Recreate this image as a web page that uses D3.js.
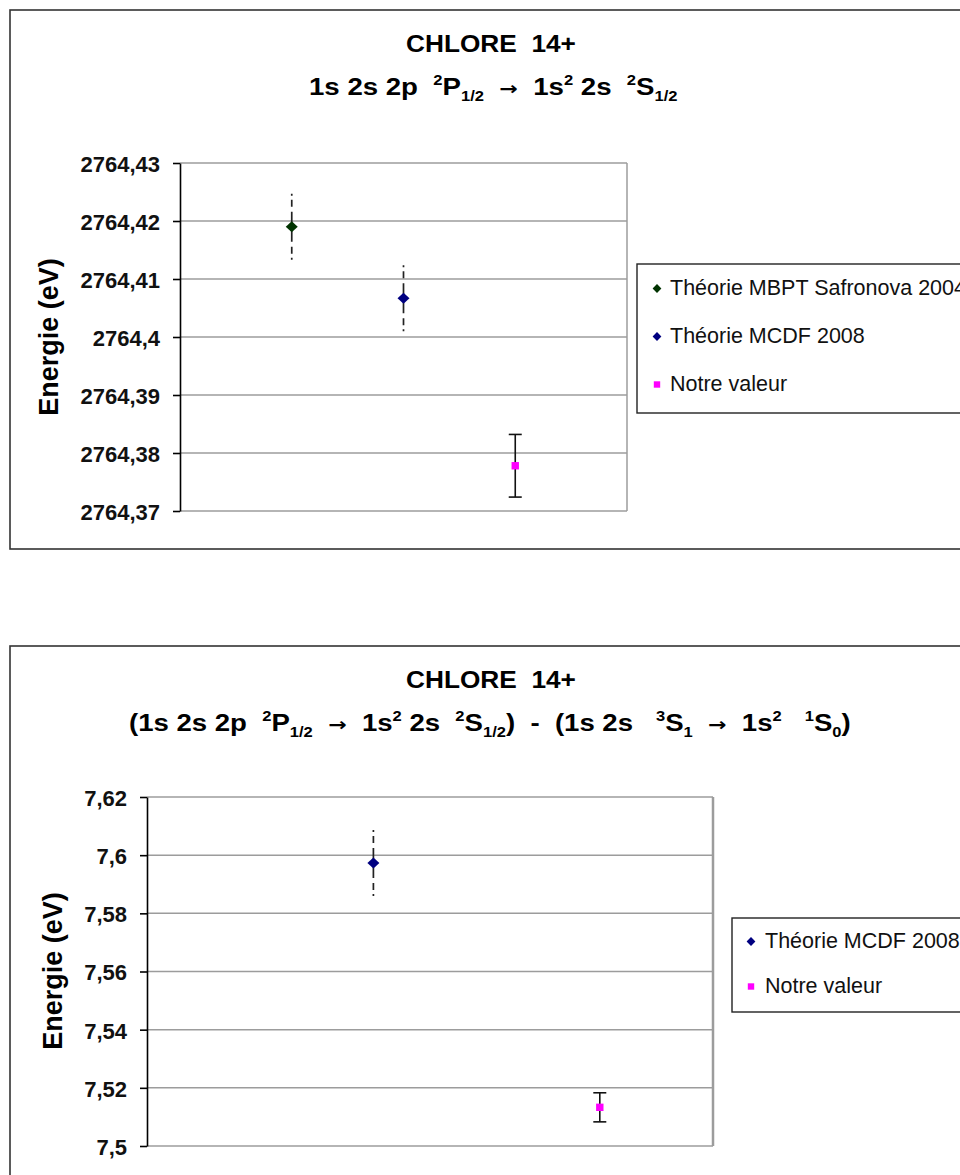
<!DOCTYPE html>
<html><head><meta charset="utf-8">
<script src="https://cdn.jsdelivr.net/npm/d3@7"></script>
<style>
body{margin:0;background:#fff}
svg{display:block}
text{font-family:"Liberation Sans",Arial,sans-serif;white-space:pre}
</style>
</head><body>
<svg id="c" width="960" height="1175"></svg>
<script>
// ---------- DATA ----------
const titleMain = "CHLORE  14+";
const subtitle1 = [{t:"1s 2s 2p  "},{t:"2",s:"sup"},{t:"P"},{t:"1/2",s:"sub"},{t:"  "},{t:"\u2192",s:"arr"},{t:"  1s"},{t:"2",s:"sup"},{t:" 2s  "},{t:"2",s:"sup"},{t:"S"},{t:"1/2",s:"sub"}];
const subtitle2 = [{t:"(1s 2s 2p  "},{t:"2",s:"sup"},{t:"P"},{t:"1/2",s:"sub"},{t:"  "},{t:"\u2192",s:"arr"},{t:"  1s"},{t:"2",s:"sup"},{t:" 2s  "},{t:"2",s:"sup"},{t:"S"},{t:"1/2",s:"sub"},{t:")  -  (1s 2s   "},{t:"3",s:"sup"},{t:"S"},{t:"1",s:"sub"},{t:"  "},{t:"\u2192",s:"arr"},{t:"  1s"},{t:"2",s:"sup"},{t:"   "},{t:"1",s:"sup"},{t:"S"},{t:"0",s:"sub"},{t:")"}];
const axisTitle = "Energie (eV)";

const names1 = ["Théorie MBPT Safronova 2004","Théorie MCDF 2008","Notre valeur"];
const xs1 = [1,2,3];
const values1 = [2764.4190, 2764.4067, 2764.3778];
const errors1 = [0.0057, 0.0058, 0.0054];
const yTicks1 = [2764.37,2764.38,2764.39,2764.40,2764.41,2764.42,2764.43];
const yTickLabels1 = ["2764,37","2764,38","2764,39","2764,4","2764,41","2764,42","2764,43"];

const names2 = ["Théorie MCDF 2008","Notre valeur"];
const xs2 = [1,2];
const values2 = [7.5973, 7.5133];
const errors2 = [0.0115, 0.0050];
const yTicks2 = [7.50,7.52,7.54,7.56,7.58,7.60,7.62];
const yTickLabels2 = ["7,5","7,52","7,54","7,56","7,58","7,6","7,62"];

const markerType = {"Théorie MBPT Safronova 2004":"diamond","Théorie MCDF 2008":"diamond","Notre valeur":"square"};
const markerColor = {"Théorie MBPT Safronova 2004":"#003300","Théorie MCDF 2008":"#000080","Notre valeur":"#ff00ff"};
const errStyle = {"Théorie MBPT Safronova 2004":"dash","Théorie MCDF 2008":"dash","Notre valeur":"cap"};

// ---------- HELPERS ----------
const svg = d3.select("#c");
function diamond(w,h){return {draw(ctx){ctx.moveTo(0,-h);ctx.lineTo(w,0);ctx.lineTo(0,h);ctx.lineTo(-w,0);ctx.closePath();}};}
function square(s){return {draw(ctx){ctx.rect(-s,-s,2*s,2*s);}};}
function marker(g,name,x,y,big){
  const t = markerType[name]==="diamond" ? (big?diamond(6,5.5):diamond(4.4,4.4)) : (big?square(3.7):square(3.2));
  g.append("path").attr("d",d3.symbol(t)()).attr("transform",`translate(${x},${y})`).attr("fill",markerColor[name]);
}
function richText(g,parts,size,left,right,baseline){
  const t = g.append("text").attr("font-weight","bold").attr("font-size",size);
  let cur=0;
  parts.forEach(p=>{
    const shift = p.s==="sup" ? -0.42*size : p.s==="sub" ? 0.28*size : 0;
    const ts = t.append("tspan").attr("dy",shift-cur).attr("font-size",(p.s==="sup"||p.s==="sub")?size*0.6:size).text(p.t);
    if(p.s==="arr") ts.attr("font-family","DejaVu Sans").attr("font-size",size*0.8);
    cur=shift;
  });
  const w = t.node().getBBox().width;
  t.attr("transform",`translate(${left},${baseline}) scale(${(right-left)/w},1)`);
}

function chart(cfg){
  const g = svg.append("g");
  // frame
  g.append("rect").attr("x",cfg.frame[0]).attr("y",cfg.frame[1]).attr("width",cfg.frame[2]).attr("height",cfg.frame[3])
    .attr("fill","#fff").attr("stroke","#333").attr("stroke-width",1.6);
  // titles
  const t1 = g.append("text").attr("font-weight","bold").attr("font-size",23).text(titleMain);
  const w1 = t1.node().getBBox().width;
  t1.attr("transform",`translate(${cfg.t1[0]},${cfg.t1[2]}) scale(${(cfg.t1[1]-cfg.t1[0])/w1},1)`);
  richText(g,cfg.sub,23,cfg.t2[0],cfg.t2[1],cfg.t2[2]);

  const x = d3.scaleLinear().domain(cfg.xDomain).range([cfg.plot[0],cfg.plot[1]]);
  const y = d3.scaleLinear().domain([cfg.ticks[0],cfg.ticks[cfg.ticks.length-1]]).range([cfg.plot[3],cfg.plot[2]]);
  // grid
  g.append("g").selectAll("line").data(cfg.ticks).join("line")
    .attr("x1",cfg.plot[0]).attr("x2",cfg.plot[1]).attr("y1",d=>y(d)).attr("y2",d=>y(d))
    .attr("stroke","#9c9c9c").attr("stroke-width",1.5);
  g.append("line").attr("x1",cfg.plot[1]).attr("x2",cfg.plot[1]).attr("y1",cfg.plot[2]).attr("y2",cfg.plot[3])
    .attr("stroke","#9c9c9c").attr("stroke-width",cfg.rightW);
  // axis
  const ax = g.append("g").attr("transform",`translate(${cfg.plot[0]},0)`)
    .call(d3.axisLeft(y).tickValues(cfg.ticks).tickSize(7).tickSizeOuter(0).tickPadding(13).tickFormat((d,i)=>cfg.labels[i]));
  ax.attr("font-family",null).attr("font-size",null);
  ax.select(".domain").attr("stroke","#000").attr("stroke-width",1.6);
  ax.selectAll(".tick line").attr("stroke","#000").attr("stroke-width",1.6);
  ax.selectAll(".tick text").attr("font-size",cfg.tickSize).attr("font-weight","bold").attr("fill","#111").attr("dy","0.38em");
  // axis title
  g.append("text").attr("font-weight","bold").attr("font-size",27).attr("text-anchor","middle")
    .attr("transform",`translate(${cfg.ylab[0]},${cfg.ylab[1]}) rotate(-90)`).text(axisTitle);
  // error bars + markers
  cfg.names.forEach((n,i)=>{
    const cx = x(cfg.xs[i]), cy = y(cfg.values[i]);
    const yt = y(cfg.values[i]+cfg.errors[i]), yb = y(cfg.values[i]-cfg.errors[i]);
    if(errStyle[n]==="dash"){
      [yt,yb].forEach(ye=>{
        g.append("line").attr("x1",cx).attr("x2",cx).attr("y1",cy).attr("y2",ye)
          .attr("stroke","#222").attr("stroke-width",1.7).attr("stroke-dasharray","15,5,7,4,2,20");
      });
    } else {
      g.append("line").attr("x1",cx).attr("x2",cx).attr("y1",yt).attr("y2",yb).attr("stroke","#111").attr("stroke-width",1.6);
      [yt,yb].forEach(ye=>g.append("line").attr("x1",cx-6.5).attr("x2",cx+6.5).attr("y1",ye).attr("y2",ye).attr("stroke","#111").attr("stroke-width",1.6));
    }
    marker(g,n,cx,cy,true);
  });
  // legend
  const L = cfg.legend;
  g.append("rect").attr("x",L.box[0]).attr("y",L.box[1]).attr("width",L.box[2]).attr("height",L.box[3])
    .attr("fill","#fff").attr("stroke","#222").attr("stroke-width",1.4);
  cfg.names.forEach((n,i)=>{
    const by = L.y0 + i*L.dy;
    marker(g,n,L.mx,by-6.5,false);
    g.append("text").attr("x",L.tx).attr("y",by).attr("font-size",21.5).attr("fill","#111").text(n);
  });
}

chart({
  frame:[10,10,990,539],
  t1:[406,576,52], t2:[309,678,95], sub:subtitle1,
  plot:[180,627,163,511], rightW:1.5, xDomain:[0,4],
  ticks:yTicks1, labels:yTickLabels1, tickSize:22,
  ylab:[58,337],
  names:names1, xs:xs1, values:values1, errors:errors1,
  legend:{box:[637,264,360,149], mx:657, tx:670, y0:295, dy:48}
});
chart({
  frame:[10,646,990,600],
  t1:[406,576,688], t2:[129,851,731], sub:subtitle2,
  plot:[147,713,797,1146], rightW:2.5, xDomain:[0,2.5],
  ticks:yTicks2, labels:yTickLabels2, tickSize:22,
  ylab:[62,971],
  names:names2, xs:xs2, values:values2, errors:errors2,
  legend:{box:[732,918,300,94], mx:751, tx:765, y0:948, dy:45}
});
</script>
</body></html>
